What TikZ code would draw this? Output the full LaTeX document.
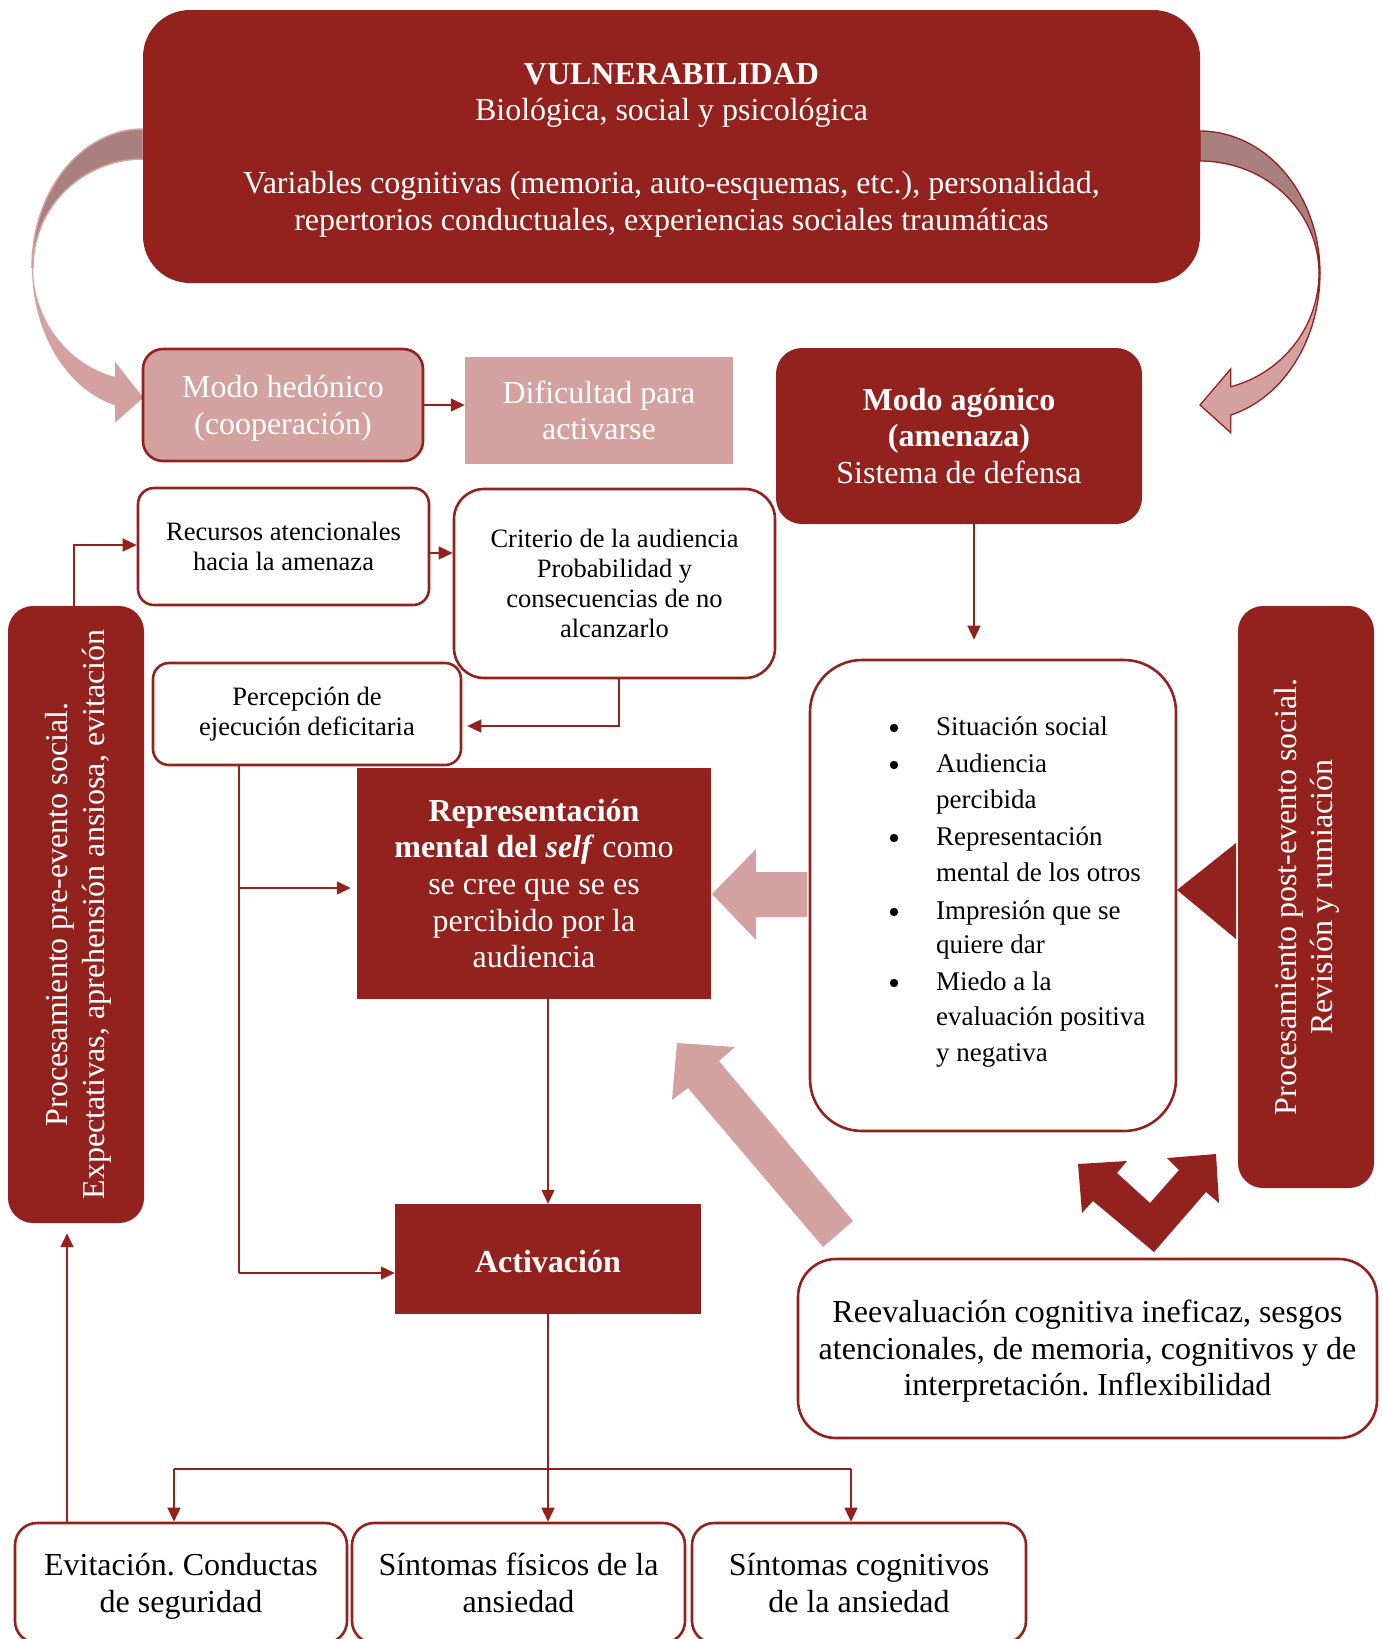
\documentclass[tikz,border=0pt]{standalone}
\usepackage{fontspec}
\setmainfont{Liberation Serif}
\usetikzlibrary{arrows.meta,calc}
\definecolor{dred}{RGB}{147,34,31}
\definecolor{lpink}{RGB}{212,161,161}
\definecolor{dusk}{RGB}{168,128,125}
% line strut for the 32pt text: full ascent and descent of the face
\newcommand\Bs{\vrule height 28.5pt depth 6.9pt width 0pt}
\frenchspacing

\begin{document}
\begin{tikzpicture}[x=1pt,y=-1pt,
  big/.style={font=\fontsize{32}{36.6}\selectfont},
  mid/.style={font=\fontsize{26.5}{30}\selectfont},
  listfont/.style={font=\fontsize{27}{36}\selectfont},
  darkbox/.style={fill=dred, text=white, align=center, inner sep=0pt},
  whitebox/.style={draw=dred, line width=2.6pt, fill=white, align=center, inner sep=0pt},
  arr/.style={draw=dred, line width=1.4pt, -{Triangle[length=14pt,width=13pt]}},
  wire/.style={draw=dred, line width=1.4pt},
  blockpink/.style={fill=lpink},
]
\useasboundingbox (0,0) rectangle (1383,1639);
\clip (0,0) rectangle (1383,1639);

% curved arrow on the left (towards the hedonic mode)
\filldraw[fill=dusk, draw=lpink, line width=1.5pt]
  plot[domain=-90:0, samples=40] ({143-111*cos(\x)},{267+138*sin(\x)})
  -- plot[domain=0:-90, samples=40] ({143-110*cos(\x)},{267+108*sin(\x)}) -- cycle;
\fill[lpink]
  plot[domain=0:75.4, samples=40] ({143-111*cos(\x)},{267+143*sin(\x)})
  -- (115,422.7) -- (143.3,397.7) -- (115,361.7)
  -- plot[domain=75.2:0, samples=40] ({143-110*cos(\x)},{267+113.7*sin(\x)}) -- cycle;

% curved arrow on the right (towards the agonic mode)
\filldraw[fill=dusk, draw=dred, line width=1.3pt]
  plot[domain=-90:0, samples=40] ({1200+120*cos(\x)},{273+142*sin(\x)})
  -- plot[domain=0:-90, samples=40] ({1200+119*cos(\x)},{273+112*sin(\x)}) -- cycle;
\filldraw[fill=lpink, draw=dred, line width=1.3pt]
  plot[domain=0:75.18, samples=40] ({1200+120*cos(\x)},{273+146.9*sin(\x)})
  -- (1230.7,432.7) -- (1200,405) -- (1230.7,369)
  -- plot[domain=75.05:0, samples=40] ({1200+119*cos(\x)},{273+117.7*sin(\x)}) -- cycle;

% boxes
\node[darkbox, big, minimum width=1057pt, minimum height=273pt, rounded corners=47pt] (vul) at (671.5,146.5)
  {\Bs\textbf{VULNERABILIDAD}\\Biológica, social y psicológica\\[36.6pt]Variables cognitivas (memoria, auto-esquemas, etc.), personalidad,\\repertorios conductuales, experiencias sociales traumáticas\Bs};

\node[fill=lpink, draw=dred, line width=2.6pt, rounded corners=20pt, minimum width=280pt, minimum height=112pt,
  text=white, big, align=center, inner sep=0pt] (hed) at (283,405) {\Bs Modo hedónico\\(cooperación)\Bs};
\node[fill=lpink, text=white, big, align=center, minimum width=268pt, minimum height=107pt, inner sep=0pt]
  (dif) at (599,410.5) {Dificultad para\\activarse};
\node[darkbox, big, rounded corners=26pt, minimum width=366pt, minimum height=176pt] (ago) at (959,436)
  {\textbf{Modo agónico}\\\textbf{(amenaza)}\\Sistema de defensa};

\node[whitebox, mid, rounded corners=16pt, minimum width=291pt, minimum height=117pt] (rec) at (283.5,546.5)
  {Recursos atencionales\\hacia la amenaza};
\node[whitebox, mid, rounded corners=30pt, minimum width=321pt, minimum height=189pt] (cri) at (614.5,583.5)
  {Criterio de la audiencia\\Probabilidad y\\consecuencias de no\\alcanzarlo};
\node[whitebox, mid, rounded corners=16pt, minimum width=308pt, minimum height=102pt] (per) at (307,714)
  {Percepción de\\ejecución deficitaria};

\node[darkbox, big, minimum width=354pt, minimum height=231pt] (rep) at (534,883.5)
  {\textbf{Representación}\\\textbf{mental del \textit{self}} como\\se cree que se es\\percibido por la\\audiencia};
\node[darkbox, big, minimum width=306pt, minimum height=110pt, text height=27pt, text depth=0pt] (act) at (548,1259)
  {\textbf{Activación}};

\node[whitebox, rounded corners=52pt, minimum width=366pt, minimum height=471pt] (lst) at (993,895.5) {};
\foreach \y in {728,765,838,912,983} \fill (894,\y) circle (4.2pt);
\foreach \t/\y [count=\i] in {Situación social/728, Audiencia/765, percibida/801, Representación/838,
    mental de los otros/874, Impresión que se/912, quiere dar/946, Miedo a la/983,
    evaluación positiva/1018, y negativa/1054}
  \node[listfont, anchor=base west, inner sep=0pt] (ln\i) at (936,\y+7.5) {\t};

\node[darkbox, rounded corners=25pt, minimum width=136pt, minimum height=617pt] (pre) at (76,914.5) {};
\node[text=white, big, rotate=90, align=center, inner sep=0pt] (pretxt) at (78.5,914.5)
  {Procesamiento pre-evento social.\\Expectativas, aprehensión ansiosa, evitación};
\node[darkbox, rounded corners=25pt, minimum width=136pt, minimum height=582pt] (post) at (1306,897) {};
\node[text=white, big, rotate=90, align=center, inner sep=0pt] (posttxt) at (1307,897)
  {Procesamiento post-evento social.\\Revisión y rumiación};

\node[whitebox, big, rounded corners=38pt, minimum width=579pt, minimum height=179pt] (ree) at (1087.5,1348.5)
  {\Bs Reevaluación cognitiva ineficaz, sesgos\\atencionales, de memoria, cognitivos y de\\interpretación. Inflexibilidad\Bs};

\node[whitebox, big, rounded corners=22pt, minimum width=332pt, minimum height=120pt] (ev) at (181,1583)
  {\Bs Evitación. Conductas\\de seguridad\Bs};
\node[whitebox, big, rounded corners=22pt, minimum width=333pt, minimum height=120pt] (sf) at (518.5,1583)
  {Síntomas físicos de la\\ansiedad};
\node[whitebox, big, rounded corners=22pt, minimum width=334pt, minimum height=120pt] (sc) at (859,1583)
  {Síntomas cognitivos\\de la ansiedad};

% block arrows
\fill[blockpink] (712,894) -- (756,849) -- (756,872) -- (807,872) -- (807,917) -- (756,917) -- (756,940) -- cycle;
\fill[blockpink] (677,1043) -- (735,1047) -- (719,1061) -- (853,1221) -- (823,1247) -- (688,1088) -- (672,1100) -- cycle;
\fill[dred] (1177,890) -- (1236,843) -- (1236,939) -- cycle;
\fill[dred] (1154,1252) -- (1093,1201) -- (1082,1213) -- (1078,1164) -- (1127,1161) -- (1117,1173)
  -- (1150,1203) -- (1179,1170) -- (1167,1158) -- (1216,1154) -- (1219,1203) -- (1206,1192) -- cycle;

% connectors
\draw[arr] (hed.east) -- (hed.east -| dif.west);
\draw[arr] ([xshift=-2pt]pre.north) |- ([yshift=1.5pt]rec.west);
\coordinate (rc) at ($(rec.east)+(0,6.5)$);
\draw[arr] (rc) -- (rc -| cri.west);
\draw[arr, shorten >=5pt] ([xshift=4.5pt]cri.south) |- ([yshift=-12pt]per.east);
\draw[arr, shorten >=19pt] ([xshift=15pt]ago.south) -- ([xshift=15pt]ago.south |- lst.north);

\coordinate (v2) at (239,1273);
\coordinate (v0) at (per.south -| v2);
\coordinate (v1) at (239,888);
\draw[wire] (v0) -- (v2);
\draw[arr, shorten >=6pt] (v1) -- (v1 -| rep.west);
\draw[arr] (v2) -- (v2 -| act.west);
\draw[arr] (act.north |- rep.south) -- (act.north);

\coordinate (b1) at (174,1469);
\coordinate (b3) at (851,1469);
\draw[wire] (b1) -- (b3);
\draw[arr] (act.south) -- (act.south |- sf.north);
\draw[arr] (b1) -- (b1 |- ev.north);
\draw[arr] (b3) -- (b3 |- sc.north);
\draw[arr, shorten >=10pt] ([xshift=-114pt]ev.north) -- ([xshift=-114pt]ev.north |- pre.south);
\end{tikzpicture}
\end{document}
